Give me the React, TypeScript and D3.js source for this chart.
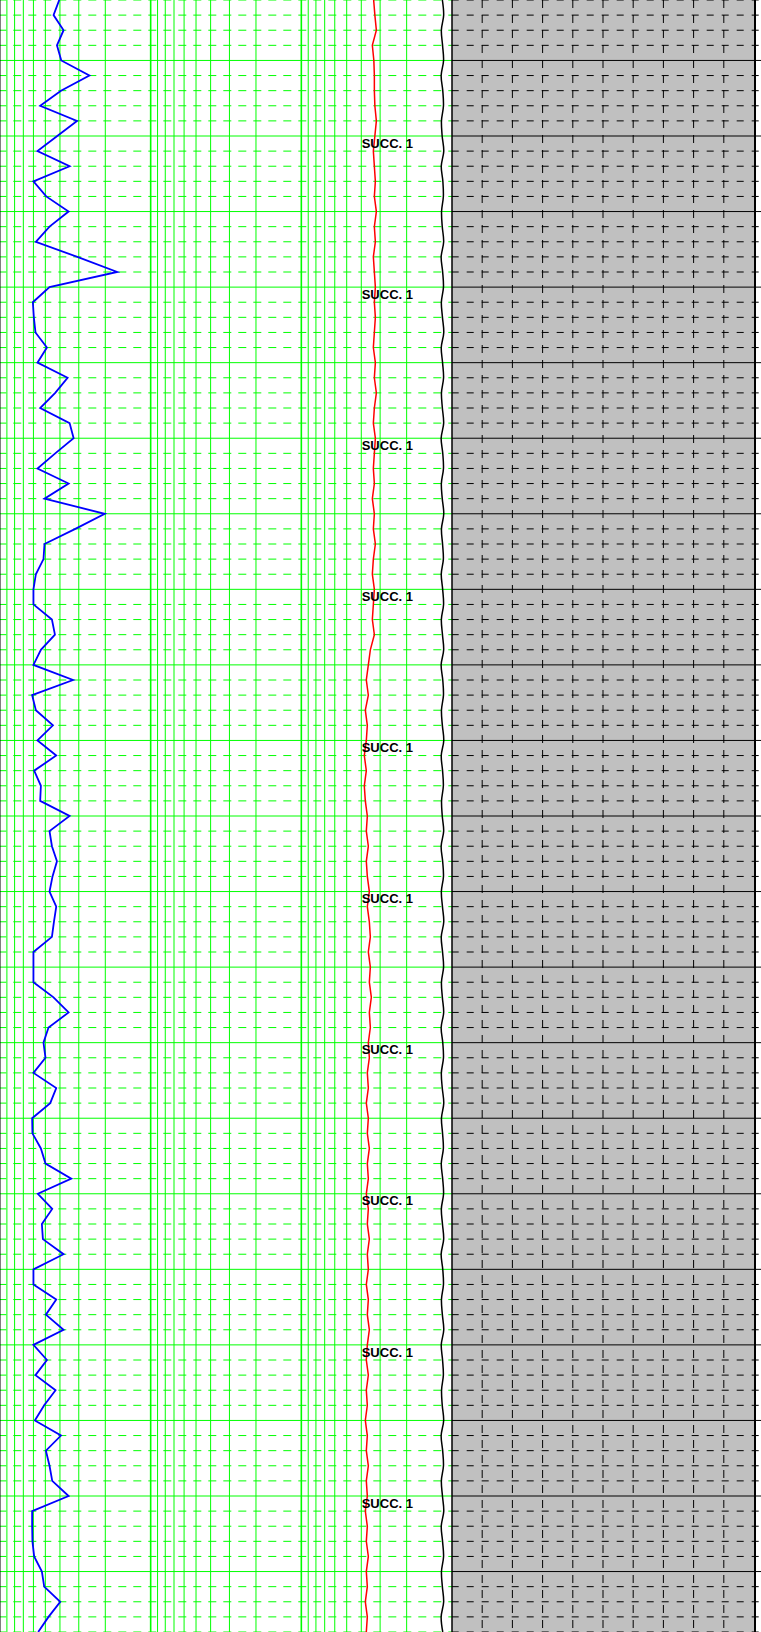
import React from 'react'
import * as d3 from 'd3'

const WIDTH = 761
const HEIGHT = 1632

// depth window of the sheet (m) and curve sampling step
const TOP_DEPTH = 992
const BASE_DEPTH = 1208
const STEP = 2

// track 1 - blue curve, one sample every 2 m from 992 m
const gr = [
  59, 53.3, 63.3, 56.7, 61, 89, 60.7, 40, 76.7, 57, 37.3, 69.3, 33.3, 46, 68.3, 49.3, 35.7, 77,
  116.7, 49.3, 32.7, 33.7, 35.3, 46.7, 37.3, 67.3, 55, 40, 69.3, 73.3, 55, 37.3, 68.3, 44.3,
  104.3, 75, 44.3, 43.3, 35.7, 33.3, 33.3, 51.7, 54.7, 40.7, 33.3, 72.7, 32, 35.7, 52.7, 37.3,
  56, 34, 40.7, 40, 69.3, 49.3, 51.7, 56.7, 52.3, 49.3, 56, 53.7, 51.7, 33.3, 33.3, 33.3, 53.3,
  68.3, 48.3, 43.3, 45.3, 33.3, 56, 50, 32, 32.3, 40.7, 45.3, 71, 37.7, 52, 41.7, 42.7, 63.3,
  33.3, 33.3, 56, 45.7, 63.3, 33.3, 46.7, 35.3, 55.3, 44, 34.7, 60.7, 45.7, 49.3, 52, 68.3, 32,
  32, 32.3, 34, 41.7, 44, 60, 48.3, 38
]

// track 3 - red curve
const sp = [
  72, 73.2, 74.7, 70.7, 72.2, 72.7, 72.7, 73.2, 74.7, 73.2, 71.7,
  72.7, 73.7, 72.7, 74.7, 72.7, 73.7, 71.7, 72.7, 73.7, 72.7,
  73.7, 72.7, 71.7, 73.7, 72.7, 74.7, 72.7, 71.7, 73.7, 72.7,
  71.7, 72.7, 70.7, 72.7, 71.7, 73.7, 71.7, 70.7, 72.7, 71.7,
  70.7, 72.7, 68.7, 66.7, 64.7, 66.7, 63.7, 65.7, 64.7, 62.7,
  64.7, 62.7, 63.7, 65.7, 64.7, 66.7, 64.7, 65.7, 67.7, 65.7,
  67.7, 68.7, 66.7, 68.7, 67.7, 69.7, 67.7, 68.7, 66.7, 67.7,
  65.7, 66.7, 64.7, 66.7, 65.7, 67.7, 65.7, 66.7, 64.7, 66.7,
  65.7, 67.7, 65.7, 66.7, 64.7, 66.7, 65.7, 67.7, 65.7, 64.7,
  66.7, 64.7, 65.7, 63.7, 65.7, 64.7, 66.7, 64.7, 65.7, 63.7,
  65.7, 64.7, 66.7, 64.7, 65.7, 63.7, 65.7, 64.7
]

// black curve on the lithology boundary
const cal = [
  140.4, 141.7, 139.4, 140.6, 141.6, 139.2, 140.8, 141.5, 139.5, 140.2, 141.8,
  139.3, 140.9, 141.4, 139.6, 140.3, 141.7, 139.2, 140.7, 141.5, 139.4,
  140.5, 141.8, 139.3, 140.6, 141.6, 139.5, 140.4, 141.7, 139.2, 140.8,
  141.5, 139.4, 140.3, 141.8, 139.5, 140.6, 141.4, 139.3, 140.7, 141.6,
  139.4, 140.5, 141.7, 139.2, 140.8, 141.5, 139.5, 140.4, 141.8, 139.3,
  140.6, 141.4, 139.6, 140.3, 141.7, 139.2, 140.7, 141.5, 139.4, 140.5,
  141.8, 139.3, 140.6, 141.6, 139.5, 140.4, 141.7, 139.2, 140.8, 141.5,
  139.4, 140.3, 141.8, 139.5, 140.6, 141.4, 139.3, 140.7, 141.6, 139.4,
  140.5, 141.7, 139.2, 140.8, 141.5, 139.5, 140.4, 141.8, 139.3, 140.6,
  141.4, 139.6, 140.3, 141.7, 139.2, 140.7, 141.5, 139.4, 140.5, 141.8,
  139.3, 140.6, 141.6, 139.5, 140.4, 141.7, 139.2, 140.8
]

// unit labels
const unitLabel = 'SUCC. 1'
const unitDepths = [1010, 1030, 1050, 1070, 1090, 1110, 1130, 1150, 1170, 1190]

const GREEN = '#00ff00'

function App() {
  // depth axis
  const y = d3.scaleLinear().domain([TOP_DEPTH, BASE_DEPTH]).range([0, HEIGHT])

  // 3 log decades for the grid, reversed
  const logX = d3.scaleLog().domain([1000, 1]).range([0, 452])
  const trackLeft = logX(1000)
  const trackRight = logX(1)
  const lithRight = 755

  const grX = d3.scaleLinear().domain([0, 150]).range([logX(1000), logX(100)])
  const spX = d3.scaleLinear().domain([0, 150]).range([logX(10), logX(1)])

  const samples = gr.map((_, i) => TOP_DEPTH + i * STEP)
  const majors = d3.range(1000, BASE_DEPTH + 1, 10)
  const minors = d3.range(TOP_DEPTH, BASE_DEPTH + 1, STEP).filter((d) => d % 10 !== 0)
  const logTicks = logX.ticks()

  const lineOf = (vals: number[], sx: (v: number) => number) =>
    d3.line<number>()
      .x((v) => sx(v))
      .y((_, i) => y(samples[i]))(vals)

  const calLine = d3.line<number>()
    .curve(d3.curveCatmullRom)
    .x((v) => spX(v))
    .y((_, i) => y(samples[i]))(cal)

  // lithology ticks
  const tickCols = d3.range(1, 10).map((j) => trackRight + j * 30.2)
  const tickRows = d3.range(0, HEIGHT, 15)

  return (
    <div>
      <style>{'body{margin:0}'}</style>
      <svg width={WIDTH} height={HEIGHT} style={{ display: 'block', background: '#fff' }}>
        {/* lithology column */}
        <rect x={trackRight} y={0} width={lithRight - trackRight} height={HEIGHT} fill="#c0c0c0" />
        <g stroke="#000" strokeWidth={1}>
          {minors.map((d) => (
            <line key={'lm' + d} x1={trackRight} x2={WIDTH} y1={y(d)} y2={y(d)}
              strokeDasharray="7,8" strokeDashoffset={0.3} />
          ))}
          {majors.map((d) => (
            <line key={'lM' + d} x1={trackRight} x2={WIDTH} y1={y(d)} y2={y(d)} />
          ))}
          {tickRows.map((r) =>
            tickCols.map((c) => (
              <line key={'t' + r + '-' + c} x1={c} x2={c} y1={r} y2={r + 8} />
            ))
          )}
        </g>

        {/* green grid */}
        <g stroke={GREEN} fill="none">
          {minors.map((d) => (
            <line key={'m' + d} x1={trackLeft} x2={trackRight} y1={y(d)} y2={y(d)}
              strokeDasharray="8,7" strokeDashoffset={1.7} />
          ))}
          {majors.map((d) => (
            <line key={'M' + d} x1={trackLeft} x2={trackRight} y1={y(d)} y2={y(d)} />
          ))}
          {logTicks.map((t) => {
            const decade = Math.abs(Math.log10(t) - Math.round(Math.log10(t))) < 1e-9
            if (t === 1000 || t === 1) return null
            return (
              <line key={'v' + t} x1={logX(t)} x2={logX(t)} y1={0} y2={HEIGHT}
                strokeWidth={decade ? 1.6 : 1} />
            )
          })}
        </g>
        <line x1={0} x2={0} y1={0} y2={HEIGHT} stroke="#000" />

        {/* column borders */}
        <line x1={trackRight} x2={trackRight} y1={0} y2={HEIGHT} stroke="#000" strokeWidth={1.5} />
        <line x1={lithRight} x2={lithRight} y1={0} y2={HEIGHT} stroke="#000" strokeWidth={2} />

        {/* curves */}
        <path d={lineOf(gr, grX) || ''} fill="none" stroke="#0000ff" strokeWidth={1.8} />
        <path d={lineOf(sp, spX) || ''} fill="none" stroke="#ff0000" strokeWidth={1.5} />
        <path d={calLine || ''} fill="none" stroke="#000" strokeWidth={1.5} />

        {/* unit labels */}
        {unitDepths.map((d) => (
          <text key={'u' + d} x={361.7} y={y(d) + 11.7}
            fontFamily="'Liberation Sans', Arial, sans-serif" fontWeight="bold" fontSize={13} fill="#000">
            {unitLabel}
          </text>
        ))}
      </svg>
    </div>
  )
}

export default App
